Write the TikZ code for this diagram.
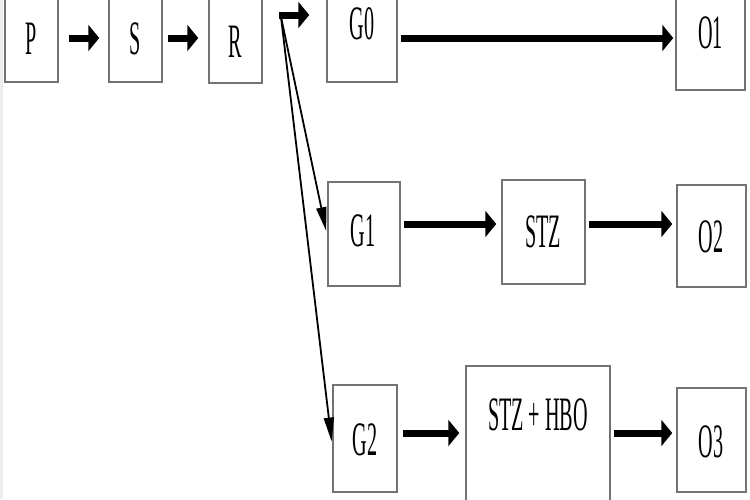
\documentclass[tikz,border=0pt]{standalone}
\usepackage{fontspec}
\usetikzlibrary{arrows.meta}
\newfontfamily\condfont{Liberation Serif}[FakeStretch=0.42]
\tikzset{
  box/.style={draw=black!55, line width=1.5pt, fill=white, rectangle, inner sep=0pt},
  txt/.style={font=\condfont\fontsize{48}{50}\selectfont, inner sep=0pt, anchor=center},
  thick arrow/.style={line width=7pt, -{Triangle[length=11pt,width=26pt]}},
  thin arrow/.style={line width=1.8pt, -{Triangle[length=24pt,width=10pt]}},
}
\begin{document}
\begin{tikzpicture}[x=1pt,y=-1pt]
\useasboundingbox (0,0) rectangle (750,499);
\clip (0,0) rectangle (750,499);
\fill[white] (0,0) rectangle (750,499);
\fill[blue!6!black!7] (0,0) rectangle (2.5,499);
% boxes
\node[box, minimum width=53pt, minimum height=90pt] (P) at (31.5,37) {};
\node[box, minimum width=53pt, minimum height=90pt] (S) at (135.5,37) {};
\node[box, minimum width=53pt, minimum height=90pt] (R) at (235.5,38) {};
\node[box, minimum width=70pt, minimum height=110pt] (G0) at (362,27) {};
\node[box, minimum width=69pt, minimum height=110pt] (O1) at (710.5,35) {};
\node[box, minimum width=72pt, minimum height=104pt] (G1) at (364,234) {};
\node[box, minimum width=83pt, minimum height=104pt] (STZ) at (543.5,232) {};
\node[box, minimum width=69pt, minimum height=102pt] (O2) at (711.5,236) {};
\node[box, minimum width=64pt, minimum height=107pt] (G2) at (365,438.5) {};
\node[box, minimum width=144pt, minimum height=160pt] (H) at (538,446) {};
\node[box, minimum width=69pt, minimum height=104pt] (O3) at (711.5,440) {};
% texts
\node[txt] (tP) at (31.5,39) {P};
\node[txt] (tS) at (135.5,39) {S};
\node[txt] (tR) at (235.5,42) {R};
\node[txt] (tG0) at (362,24) {G0};
\node[txt] (tO1) at (710.5,33) {O1};
\node[txt] (tG1) at (363,231) {G1};
\node[txt] (tSTZ) at (543,232) {STZ};
\node[txt] (tO2) at (711,237) {O2};
\node[txt] (tG2) at (365,440) {G2};
\node[txt] (tH) at (538,415) {STZ + HBO};
\node[txt] (tO3) at (711,442) {O3};
% connectors
\coordinate (br) at (279,15);
\coordinate (brs) at (281,17);
\draw[thick arrow, shorten <=10pt, shorten >=9pt] (P.east |- 0,38) -- (S.west |- 0,38);
\draw[thick arrow, shorten <=5pt, shorten >=10pt] (S.east |- 0,38) -- (R.west |- 0,38);
\draw[thick arrow, shorten >=17pt] (br) -- (br -| G0.west);
\draw[thick arrow, shorten <=3pt, shorten >=2pt] (G0.east |- 0,38) -- (O1.west |- 0,38);
\draw[thick arrow, shorten <=3pt, shorten >=5pt] (G1.east |- 0,224) -- (STZ.west |- 0,224);
\draw[thick arrow, shorten <=3pt, shorten >=4pt] (STZ.east |- 0,224) -- (O2.west |- 0,224);
\draw[thick arrow, shorten <=5pt, shorten >=6pt] (G2.east |- 0,433) -- (H.west |- 0,433);
\draw[thick arrow, shorten <=3pt, shorten >=4pt] (H.east |- 0,433) -- (O3.west |- 0,433);
\draw[thin arrow, shorten >=5pt] (brs) -- ([yshift=-2pt]G1.west);
\draw[thin arrow, shorten >=5pt] (brs) -- ([yshift=-8pt]G2.west);
\end{tikzpicture}
\end{document}
